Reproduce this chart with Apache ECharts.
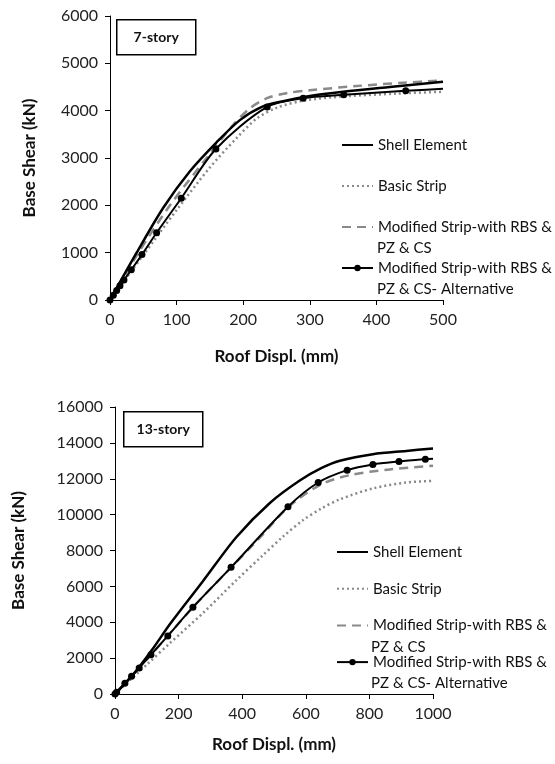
<!DOCTYPE html>
<html>
<head>
<meta charset="utf-8">
<script src="https://cdn.jsdelivr.net/npm/echarts@6/dist/echarts.min.js"></script>
<style>
  html, body { margin: 0; padding: 0; background: #fff; }
  #chart { width: 555px; height: 764px; }
</style>
</head>
<body>
<div id="chart"></div>
<script>
// 7-story: roof displacement (mm) / base shear (kN)
const shell7X = [0, 40, 80, 120, 160, 195, 228, 260, 300, 350, 420, 500]
const shell7Y = [0, 1000, 1950, 2720, 3330, 3800, 4080, 4200, 4310, 4400, 4500, 4610]
const basic7X = [0, 50, 100, 150, 190, 220, 250, 290, 350, 430, 500]
const basic7Y = [0, 950, 1900, 2800, 3420, 3830, 4060, 4210, 4300, 4360, 4400]
const mod7X = [0, 45, 90, 145, 185, 210, 235, 265, 300, 370, 440, 500]
const mod7Y = [0, 1050, 2000, 3000, 3700, 4050, 4260, 4370, 4430, 4520, 4590, 4640]
const alt7X = [0, 5, 10, 15, 21, 32, 48, 70, 107, 159, 236, 290, 351, 444, 500]
const alt7Y = [0, 100, 200, 300, 420, 640, 960, 1420, 2150, 3190, 4080, 4264, 4334, 4419, 4461]

// 13-story
const shell13X = [0, 60, 120, 173, 277, 382, 487, 581, 650, 707, 811, 916, 1000]
const shell13Y = [0, 1150, 2550, 3900, 6300, 8750, 10650, 11900, 12600, 13000, 13370, 13550, 13690]
const basic13X = [0, 100, 173, 277, 382, 460, 530, 592, 650, 707, 811, 916, 1000]
const basic13Y = [0, 1640, 2840, 4520, 6350, 7650, 8800, 9700, 10350, 10850, 11460, 11790, 11880]
const mod13X = [0, 52, 113, 245, 365, 460, 544, 644, 738, 864, 1000]
const mod13Y = [0, 980, 2180, 4830, 7050, 8800, 10400, 11650, 12200, 12520, 12720]
const alt13X = [0, 5, 31, 52, 76, 113, 166, 245, 365, 544, 639, 730, 811, 893, 976, 1000]
const alt13Y = [0, 100, 600, 990, 1450, 2190, 3240, 4840, 7060, 10440, 11790, 12480, 12800, 12960, 13090, 13120]

const seriesNames = ['Shell Element', 'Basic Strip', 'Modified Strip-with RBS & PZ & CS', 'Modified Strip-with RBS & PZ & CS- Alternative']
const FONT = 'Lato, "Open Sans", sans-serif'

const chart = echarts.init(document.getElementById('chart'))

function pairs (xs, ys) {
  return xs.map((x, i) => [x, ys[i]])
}

// alternative curve: markers on every point except the last one
function markedPairs (xs, ys) {
  return xs.map((x, i) => i === xs.length - 1
    ? { value: [x, ys[i]], symbol: 'none' }
    : [x, ys[i]])
}

function makeSeries (idx, shellX, shellY, basicX, basicY, modX, modY, altX, altY) {
  const base = { type: 'line', xAxisIndex: idx, yAxisIndex: idx, smooth: 0.3, silent: true, animation: false }
  return [
    Object.assign({}, base, {
      name: seriesNames[0], data: pairs(shellX, shellY), showSymbol: false, symbol: 'none', z: 4,
      lineStyle: { color: '#000', width: 2.5 }, itemStyle: { color: '#000' }
    }),
    Object.assign({}, base, {
      name: seriesNames[1], data: pairs(basicX, basicY), showSymbol: false, symbol: 'none', z: 2,
      lineStyle: { color: '#8a8a8a', width: 2.5, type: [2, 3] }, itemStyle: { color: '#8a8a8a' }
    }),
    Object.assign({}, base, {
      name: seriesNames[2], data: pairs(modX, modY), showSymbol: false, symbol: 'none', z: 3,
      lineStyle: { color: '#8a8a8a', width: 2.5, type: [9, 6] }, itemStyle: { color: '#8a8a8a' }
    }),
    Object.assign({}, base, {
      name: seriesNames[3], data: markedPairs(altX, altY), symbol: 'circle', symbolSize: 7, z: 5,
      lineStyle: { color: '#000', width: 2 }, itemStyle: { color: '#000' }
    })
  ]
}

function makeLegend (left, top, gap) {
  return {
    orient: 'vertical', left: left, top: top, padding: 0,
    itemWidth: 31, itemHeight: 8, itemGap: gap, selectedMode: false,
    // only the alternative curve shows a marker in its key
    data: seriesNames.map((n, i) => i === 3 ? n : { name: n, itemStyle: { opacity: 0 } }),
    formatter: name => name.split(' PZ')[0],
    textStyle: { fontFamily: FONT, fontSize: 15, color: '#111', lineHeight: 18 }
  }
}

function xAxisOf (idx, max, interval) {
  return {
    type: 'value', gridIndex: idx, min: 0, max: max, interval: interval,
    name: 'Roof Displ. (mm)', nameLocation: 'middle', nameGap: idx === 0 ? 48 : 42,
    nameTextStyle: { fontFamily: FONT, fontSize: 17, fontWeight: 'bold', color: '#111' },
    axisLine: { lineStyle: { color: '#000', width: 1 } },
    axisTick: { length: 5, lineStyle: { color: '#000' } },
    axisLabel: { fontFamily: FONT, fontSize: 16, color: '#222', margin: 12, formatter: v => String(v) },
    splitLine: { show: false }
  }
}

function yAxisOf (idx, max, interval, gap) {
  return {
    type: 'value', gridIndex: idx, min: 0, max: max, interval: interval,
    name: 'Base Shear (kN)', nameLocation: 'middle', nameGap: gap,
    nameTextStyle: { fontFamily: FONT, fontSize: 17, fontWeight: 'bold', color: '#111' },
    axisLine: { show: true, lineStyle: { color: '#000', width: 1 } },
    axisTick: { show: true, length: 5, lineStyle: { color: '#000' } },
    axisLabel: { fontFamily: FONT, fontSize: 16, color: '#222', margin: 12, formatter: v => String(v) },
    splitLine: { show: false }
  }
}

function storyBox (x, y, label) {
  return {
    type: 'group', left: x, top: y,
    children: [
      { type: 'rect', shape: { x: 0, y: 0, width: 79, height: 35 }, style: { fill: '#fff', stroke: '#000', lineWidth: 1.5 } },
      { type: 'text', x: 39.5, y: 17.5, style: { text: label, fontFamily: FONT, fontSize: 14, fontWeight: 'bold', fill: '#111', align: 'center', verticalAlign: 'middle' } }
    ]
  }
}

function secondLine (x, y, text) {
  return { type: 'text', x: x, y: y, style: { text: text, fontFamily: FONT, fontSize: 15, fill: '#111', verticalAlign: 'middle' } }
}

const option = {
  backgroundColor: '#fff',
  animation: false,
  grid: [
    { left: 110, top: 16, width: 333, height: 284 },
    { left: 115, top: 407, width: 318, height: 287 }
  ],
  xAxis: [xAxisOf(0, 500, 100), xAxisOf(1, 1000, 200)],
  yAxis: [yAxisOf(0, 6000, 1000, 72), yAxisOf(1, 16000, 2000, 88)],
  legend: [makeLegend(341, 136, 23), makeLegend(336, 543, 18.7)],
  graphic: [
    storyBox(116, 19, '7-story'),
    storyBox(123, 411, '13-story'),
    secondLine(377, 248, 'PZ & CS'),
    secondLine(377, 289, 'PZ & CS- Alternative'),
    secondLine(371, 647, 'PZ & CS'),
    secondLine(371, 683, 'PZ & CS- Alternative')
  ],
  series: [].concat(
    makeSeries(0, shell7X, shell7Y, basic7X, basic7Y, mod7X, mod7Y, alt7X, alt7Y),
    makeSeries(1, shell13X, shell13Y, basic13X, basic13Y, mod13X, mod13Y, alt13X, alt13Y)
  )
}
chart.setOption(option)
</script>
</body>
</html>
